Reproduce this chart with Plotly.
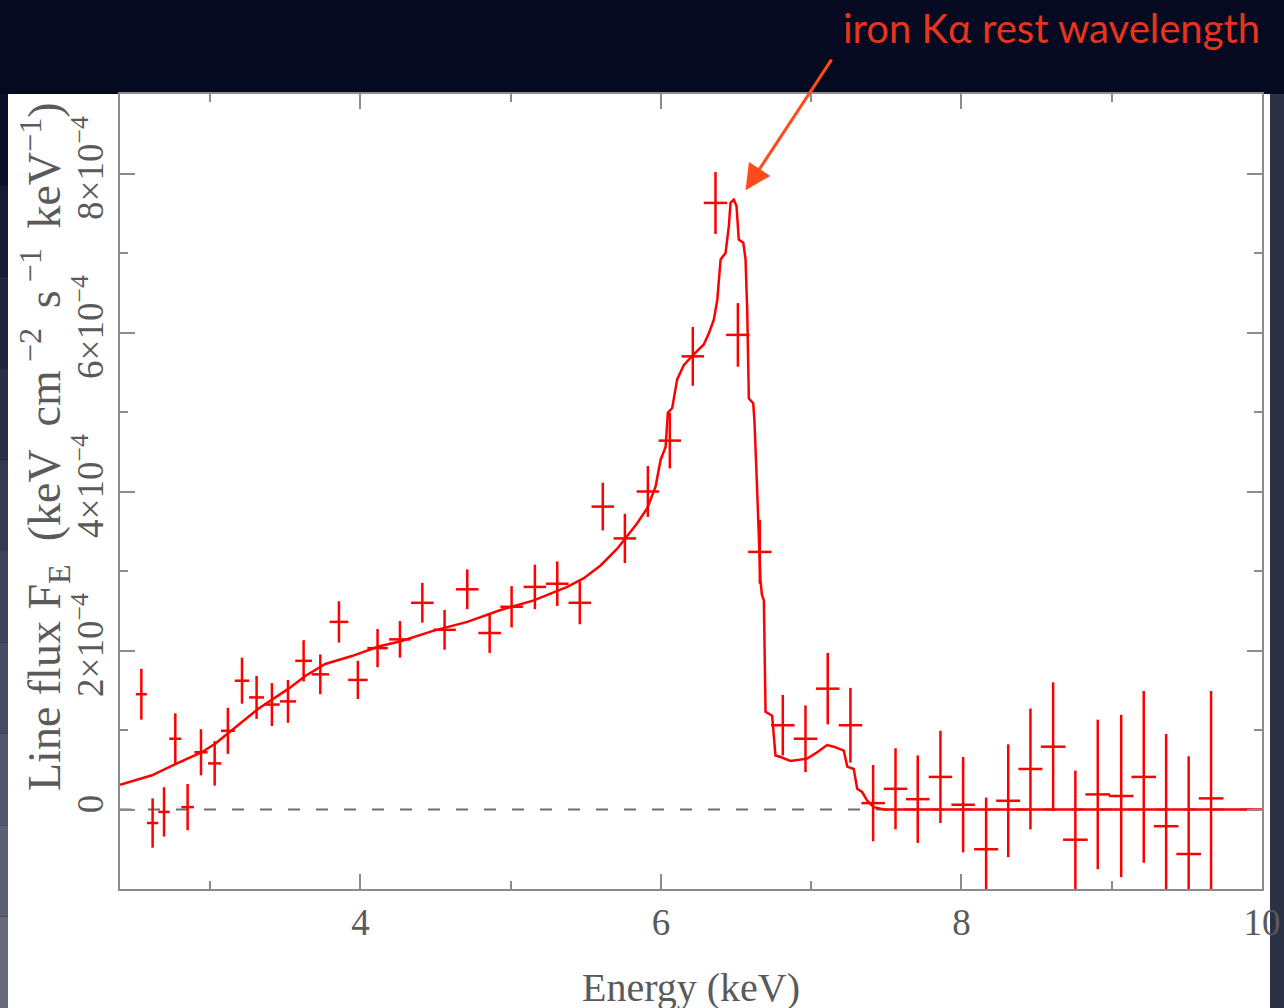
import plotly.graph_objects as go

# ---------------- data (flux in units of 1e-4 keV cm^-2 s^-1 keV^-1) ----------------
energy = [2.542, 2.617, 2.693, 2.768, 2.850, 2.939, 3.030, 3.118, 3.212, 3.309,
          3.411, 3.518, 3.622, 3.733, 3.857, 3.983, 4.114, 4.263, 4.412, 4.560,
          4.711, 4.860, 5.006, 5.161, 5.310, 5.460, 5.613, 5.760, 5.913, 6.059,
          6.212, 6.363, 6.512, 6.658, 6.811, 6.962, 7.110, 7.261, 7.412, 7.561,
          7.709, 7.860, 8.011, 8.164, 8.311, 8.459, 8.610, 8.758, 8.907, 9.063,
          9.213, 9.362, 9.512, 9.661]
energy_halfwidth = [0.037, 0.038, 0.038, 0.040, 0.042, 0.044, 0.044, 0.046, 0.048, 0.050,
                    0.052, 0.054, 0.056, 0.058, 0.062, 0.065, 0.068, 0.072, 0.075, 0.075,
                    0.075, 0.075, 0.075, 0.075, 0.075, 0.075, 0.075, 0.075, 0.075, 0.075,
                    0.075, 0.078, 0.078, 0.078, 0.078, 0.078, 0.078, 0.078, 0.078, 0.078,
                    0.078, 0.078, 0.078, 0.080, 0.080, 0.080, 0.082, 0.082, 0.082, 0.082,
                    0.082, 0.082, 0.082, 0.082]
flux = [1.45, -0.17, -0.03, 0.89, 0.03, 0.72, 0.58, 0.99, 1.62, 1.41,
        1.32, 1.36, 1.87, 1.70, 2.36, 1.63, 2.03, 2.14, 2.60, 2.26,
        2.77, 2.22, 2.55, 2.80, 2.84, 2.60, 3.81, 3.41, 4.00, 4.64,
        5.70, 7.63, 5.97, 3.24, 1.06, 0.89, 1.52, 1.06, 0.08, 0.26,
        0.13, 0.41, 0.06, -0.50, 0.11, 0.51, 0.79, -0.38, 0.19, 0.17,
        0.41, -0.21, -0.56, 0.14]
flux_err = [0.32, 0.31, 0.31, 0.32, 0.29, 0.29, 0.28, 0.29, 0.29, 0.27,
            0.27, 0.27, 0.26, 0.25, 0.26, 0.24, 0.24, 0.23, 0.25, 0.25,
            0.25, 0.25, 0.26, 0.28, 0.28, 0.27, 0.30, 0.31, 0.32, 0.35,
            0.37, 0.39, 0.40, 0.40, 0.38, 0.42, 0.45, 0.47, 0.48, 0.51,
            0.55, 0.58, 0.60, 0.65, 0.71, 0.76, 0.81, 0.87, 0.94, 1.02,
            1.08, 1.16, 1.23, 1.35]

model_energy = [2.40, 2.613, 2.768, 2.945, 3.035, 3.123, 3.212, 3.323, 3.411, 3.522,
                3.633, 3.766, 3.943, 4.121, 4.274, 4.489, 4.711, 4.933, 5.154, 5.377,
                5.487, 5.598, 5.709, 5.764, 5.842, 5.909, 5.964, 5.998, 6.031, 6.046,
                6.075, 6.108, 6.152, 6.215, 6.285, 6.319, 6.352, 6.375, 6.397, 6.430,
                6.452, 6.463, 6.485, 6.503, 6.518, 6.548, 6.563, 6.574, 6.585, 6.614,
                6.622, 6.641, 6.651, 6.662, 6.672, 6.685, 6.696, 6.740, 6.762, 6.796,
                6.862, 6.973, 7.040, 7.106, 7.150, 7.184, 7.217, 7.240, 7.283, 7.306,
                7.339, 7.373, 7.416, 7.483, 10.0]
model_flux = [0.31, 0.43, 0.57, 0.72, 0.83, 0.97, 1.10, 1.27, 1.38, 1.52,
              1.68, 1.83, 1.93, 2.05, 2.12, 2.25, 2.36, 2.51, 2.63, 2.80,
              2.91, 3.07, 3.28, 3.41, 3.60, 3.79, 4.06, 4.40, 4.56, 4.99,
              5.05, 5.41, 5.59, 5.72, 5.85, 5.99, 6.16, 6.41, 6.92, 7.00,
              7.34, 7.63, 7.67, 7.59, 7.17, 7.13, 6.92, 6.29, 5.17, 5.11,
              4.90, 3.98, 3.35, 2.89, 2.70, 2.63, 1.23, 1.18, 0.68, 0.66,
              0.61, 0.64, 0.72, 0.81, 0.79, 0.76, 0.74, 0.54, 0.51, 0.26,
              0.22, 0.11, 0.03, 0.00, 0.00]

x_tick_vals = [4, 6, 8, 10]
x_tick_text = ["4", "6", "8", "10"]
x_minor_vals = [3, 5, 7, 9]
y_tick_vals = [0, 2, 4, 6, 8]
y_tick_text = ["0", "2×10<sup>−4</sup>", "4×10<sup>−4</sup>", "6×10<sup>−4</sup>", "8×10<sup>−4</sup>"]
y_minor_vals = [1, 3, 5, 7]

# ---------------- layout geometry ----------------
W, H = 1284, 1008
L, R, T, B = 120, 22, 94, 119
PW, PH = W - L - R, H - T - B


def pxx(px):
    return (px - L) / PW


def pxy(py):
    return (H - B - py) / PH


RED = "#ff0000"
AXC = "#8c8c8c"
TXT = "#5a5a5a"
SERIF = "Liberation Serif"
NB = "\u00a0"

fig = go.Figure()

fig.add_trace(go.Scatter(
    x=model_energy, y=model_flux, mode="lines",
    line=dict(color=RED, width=2.5), hoverinfo="skip", showlegend=False))

fig.add_trace(go.Scatter(
    x=energy, y=flux, mode="markers",
    marker=dict(size=1, color="rgba(0,0,0,0)"),
    error_x=dict(type="data", array=energy_halfwidth, color=RED, thickness=2.5, width=0),
    error_y=dict(type="data", array=flux_err, color=RED, thickness=2.5, width=0),
    hoverinfo="skip", showlegend=False))

shapes = [
    # white panel
    dict(type="rect", xref="paper", yref="paper", x0=pxx(8), x1=pxx(1270), y0=pxy(1008), y1=pxy(94),
         fillcolor="white", line=dict(width=0), layer="below"),
    # right strip
    dict(type="rect", xref="paper", yref="paper", x0=pxx(1270), x1=pxx(1284), y0=pxy(1008), y1=pxy(94),
         fillcolor="#2c3044", line=dict(width=0), layer="below"),
]
# left strip (gradient approximation)
strip_cols = ["#0c1028", "#161a32", "#20243c", "#2a2e46", "#343850", "#3e425a", "#484c62", "#52566a", "#5c6072", "#666a7a"]
n = len(strip_cols)
for i, c in enumerate(strip_cols):
    y_top = 94 + (1008 - 94) * i / n
    y_bot = 94 + (1008 - 94) * (i + 1) / n
    shapes.append(dict(type="rect", xref="paper", yref="paper", x0=pxx(0), x1=pxx(8),
                       y0=pxy(y_bot), y1=pxy(y_top), fillcolor=c, line=dict(width=0), layer="below"))
# dashed zero line
shapes.append(dict(type="line", xref="paper", yref="y", x0=0, x1=1, y0=0, y1=0,
                   line=dict(color="#6e6e6e", width=2, dash="12px,16px"), layer="below"))

ytitle = ("Line" + NB + "flux" + NB + "F<sub>E</sub>" + NB * 2 + "(keV" + NB * 2 + "cm<sup>" + NB + "−2" + NB + "</sup>"
          + NB + "s<sup>" + NB + "−1" + NB + "</sup>" + NB + "keV<sup>−1</sup>)")

annotations = [
    dict(text="Energy (keV)", xref="paper", yref="paper", x=0.5, y=pxy(987),
         xanchor="center", yanchor="middle", showarrow=False,
         font=dict(family=SERIF, size=40, color=TXT)),
    dict(text=ytitle,
         xref="paper", yref="paper", x=pxx(44), y=pxy(447), textangle=-90,
         xanchor="center", yanchor="middle", showarrow=False,
         font=dict(family=SERIF, size=46, color=TXT)),
    dict(text="iron Kα rest wavelength", xref="paper", yref="paper", x=pxx(1262), y=pxy(28),
         xanchor="right", yanchor="middle", showarrow=False,
         font=dict(family="Lato", size=40, color="#e8341c")),
    dict(text="", x=6.563, y=7.79, xref="x", yref="y", showarrow=True,
         ax=87, ay=-132, arrowcolor="#ff4a1c", arrowwidth=3, arrowhead=2, arrowsize=1.7,
         standoff=0),
]

axis_common = dict(
    showline=True, linecolor=AXC, linewidth=2, mirror="allticks",
    ticks="inside", ticklen=15, tickwidth=1.5, tickcolor=AXC,
    showgrid=False, zeroline=False, automargin=False,
    tickfont=dict(family=SERIF, size=37, color=TXT),
)

fig.update_layout(
    width=W, height=H,
    margin=dict(l=L, r=R, t=T, b=B, pad=0, autoexpand=False),
    paper_bgcolor="#060a20", plot_bgcolor="white",
    shapes=shapes, annotations=annotations,
    xaxis=dict(range=[2.4, 10], tickmode="array", tickvals=x_tick_vals, ticktext=x_tick_text,
               minor=dict(tickmode="array", tickvals=x_minor_vals, ticks="inside", ticklen=8,
                          tickwidth=1.5, tickcolor=AXC, showgrid=False),
               **axis_common),
    yaxis=dict(range=[-1, 9], tickmode="array", tickvals=y_tick_vals, ticktext=y_tick_text,
               tickangle=-90,
               minor=dict(tickmode="array", tickvals=y_minor_vals, ticks="inside", ticklen=8,
                          tickwidth=1.5, tickcolor=AXC, showgrid=False),
               **axis_common),
    showlegend=False,
)

fig.write_html("out.html")
